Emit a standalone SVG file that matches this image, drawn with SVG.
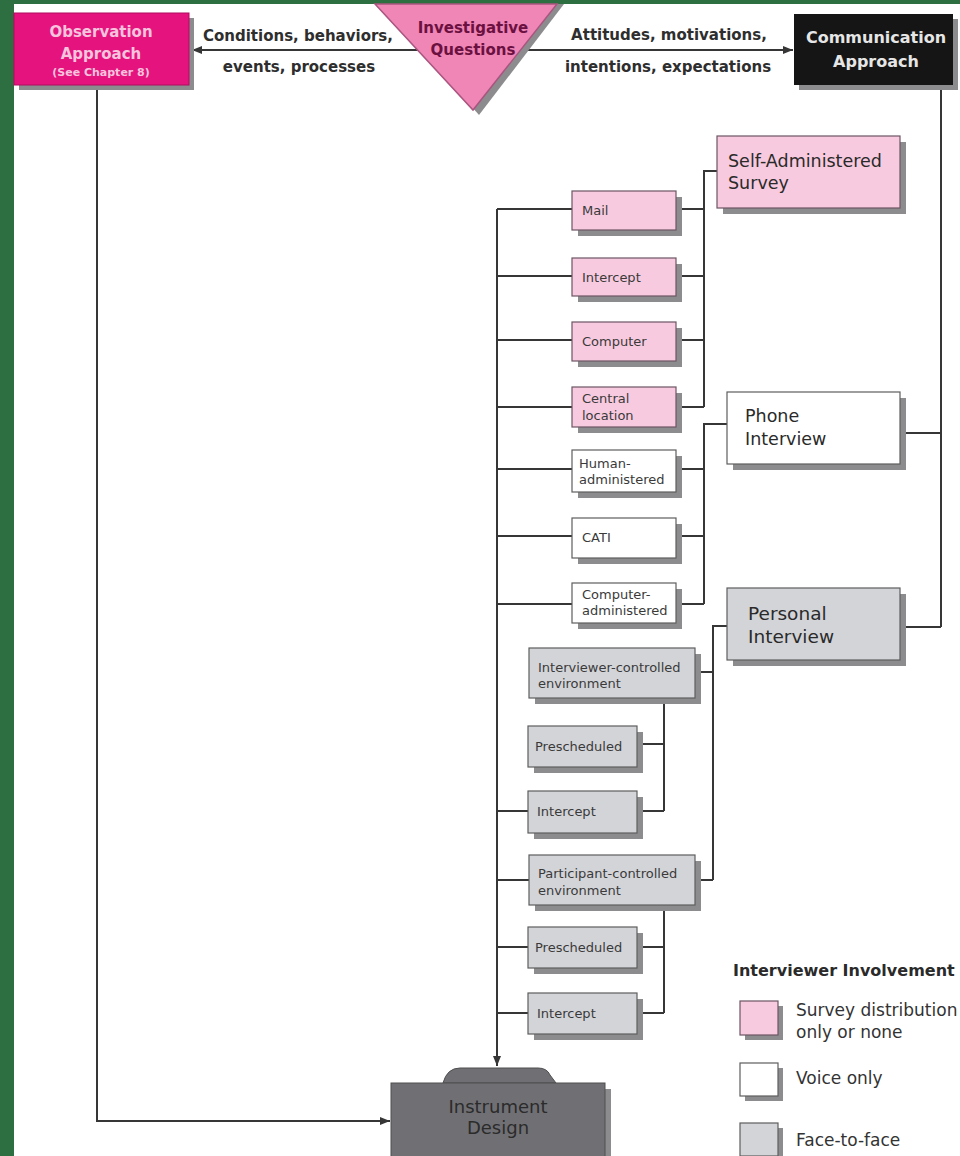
<svg xmlns="http://www.w3.org/2000/svg" width="960" height="1156" viewBox="0 0 960 1156">
<defs>
<style>
.t{font-family:"DejaVu Sans","Liberation Sans",sans-serif;}
.lbl{font-size:15px;font-weight:bold;fill:#2e2e2e;text-anchor:middle;}
.sm{font-size:13px;fill:#3a3a3a;}
.big{font-size:17.5px;fill:#2a2a2a;}
.leg{font-size:17px;fill:#333;}
.sh{fill:#8c8c8e;}
.pk{fill:#f8cadf;stroke:#6d5563;stroke-width:1.2;}
.wt{fill:#ffffff;stroke:#5e5e5e;stroke-width:1.2;}
.gy{fill:#d3d4d8;stroke:#5e5e5e;stroke-width:1.2;}
.ln{fill:none;stroke:#363636;stroke-width:2;}
</style>
<marker id="ah" viewBox="0 0 10 8" refX="10" refY="4" markerWidth="10" markerHeight="8" orient="auto" markerUnits="userSpaceOnUse"><path d="M0,0 L10,4 L0,8 z" fill="#363636"/></marker>
</defs>
<rect x="0" y="0" width="960" height="1156" fill="#ffffff"/>
<rect x="0" y="0" width="960" height="4" fill="#2e6f41"/>
<rect x="0" y="0" width="14" height="1156" fill="#2e6f41"/>

<g id="connectors">
<line class="ln" x1="418" y1="50" x2="192" y2="50" marker-end="url(#ah)"/>
<line class="ln" x1="520" y1="50" x2="793" y2="50" marker-end="url(#ah)"/>
<polyline class="ln" points="97,88 97,1121 390,1121" marker-end="url(#ah)"/>
<line class="ln" x1="497" y1="209" x2="497" y2="1066" marker-end="url(#ah)"/>
<path class="ln" d="M497,209H572M497,276H572M497,340H572M497,407H572M497,469H572M497,536H572M497,604H572M497,811H528M497,880H529M497,947H528M497,1013H528"/>
<path class="ln" d="M717,171H704V407M676,209H704M676,276H704M676,340H704M676,407H704"/>
<path class="ln" d="M727,424H704V604M676,469H704M676,536H704M676,604H704"/>
<path class="ln" d="M727,626H713V880M695,672H713M695,880H713"/>
<path class="ln" d="M664,698V811M637,744H664M637,811H664"/>
<path class="ln" d="M664,905V1013M637,947H664M637,1013H664"/>
<path class="ln" d="M941,86V627M900,433H941M900,627H941"/>
</g>

<g id="observation">
<rect class="sh" x="19" y="18" width="175" height="72"/>
<rect x="14" y="13" width="175" height="72" fill="#e5137e" stroke="#b00d60" stroke-width="1"/>
<text class="t" x="101" y="37" text-anchor="middle" font-size="15" font-weight="bold" fill="#f7c4de">Observation</text>
<text class="t" x="101" y="59" text-anchor="middle" font-size="15" font-weight="bold" fill="#f7c4de">Approach</text>
<text class="t" x="101" y="76" text-anchor="middle" font-size="11" font-weight="bold" fill="#f7c4de">(See Chapter 8)</text>
</g>

<g id="label-left">
<text class="t lbl" x="298" y="41">Conditions, behaviors,</text>
<text class="t lbl" x="299" y="72">events, processes</text>
</g>
<g id="label-right">
<text class="t lbl" x="669" y="40">Attitudes, motivations,</text>
<text class="t lbl" x="668" y="72">intentions, expectations</text>
</g>

<g id="questions">
<polygon class="sh" points="381,4 564,4 479,115"/>
<polygon points="375,4 557,4 473,110" fill="#ef86b6" stroke="#a9557f" stroke-width="1.5"/>
<text class="t" x="473" y="33" text-anchor="middle" font-size="15" font-weight="bold" fill="#6b1040">Investigative</text>
<text class="t" x="473" y="55" text-anchor="middle" font-size="15" font-weight="bold" fill="#6b1040">Questions</text>
</g>

<g id="communication">
<rect class="sh" x="799" y="19" width="159" height="71"/>
<rect x="794" y="14" width="159" height="71" fill="#151515"/>
<text class="t" x="876" y="43" text-anchor="middle" font-size="16" font-weight="bold" fill="#e6e6e6">Communication</text>
<text class="t" x="876" y="67" text-anchor="middle" font-size="16" font-weight="bold" fill="#e6e6e6">Approach</text>
</g>

<g id="self-administered">
<rect class="sh" x="723" y="142" width="183" height="72"/>
<rect class="pk" x="717" y="136" width="183" height="72"/>
<text class="t big" x="728" y="167">Self-Administered</text>
<text class="t big" x="728" y="189">Survey</text>
</g>

<g id="mail"><rect class="sh" x="578" y="197" width="104" height="39"/><rect class="pk" x="572" y="191" width="104" height="39"/><text class="t sm" x="582" y="215">Mail</text></g>
<g id="intercept-sa"><rect class="sh" x="578" y="264" width="104" height="38"/><rect class="pk" x="572" y="258" width="104" height="38"/><text class="t sm" x="582" y="282">Intercept</text></g>
<g id="computer"><rect class="sh" x="578" y="328" width="104" height="39"/><rect class="pk" x="572" y="322" width="104" height="39"/><text class="t sm" x="582" y="346">Computer</text></g>
<g id="central-location"><rect class="sh" x="578" y="393" width="104" height="40"/><rect class="pk" x="572" y="387" width="104" height="40"/><text class="t sm" x="582" y="403">Central</text><text class="t sm" x="582" y="420">location</text></g>

<g id="phone">
<rect class="sh" x="733" y="398" width="173" height="72"/>
<rect class="wt" x="727" y="392" width="173" height="72"/>
<text class="t big" x="745" y="422">Phone</text>
<text class="t big" x="745" y="445">Interview</text>
</g>

<g id="human-administered"><rect class="sh" x="578" y="456" width="104" height="42"/><rect class="wt" x="572" y="450" width="104" height="42"/><text class="t sm" x="579" y="468">Human-</text><text class="t sm" x="579" y="484">administered</text></g>
<g id="cati"><rect class="sh" x="578" y="524" width="104" height="40"/><rect class="wt" x="572" y="518" width="104" height="40"/><text class="t sm" x="582" y="542">CATI</text></g>
<g id="computer-administered"><rect class="sh" x="578" y="589" width="104" height="40"/><rect class="wt" x="572" y="583" width="104" height="40"/><text class="t sm" x="582" y="599">Computer-</text><text class="t sm" x="582" y="615">administered</text></g>

<g id="personal">
<rect class="sh" x="733" y="594" width="173" height="72"/>
<rect class="gy" x="727" y="588" width="173" height="72"/>
<text class="t" x="748" y="620" font-size="18.5" fill="#2a2a2a">Personal</text>
<text class="t" x="748" y="643" font-size="18.5" fill="#2a2a2a">Interview</text>
</g>

<g id="interviewer-controlled"><rect class="sh" x="535" y="654" width="166" height="50"/><rect class="gy" x="529" y="648" width="166" height="50"/><text class="t sm" x="538" y="672">Interviewer-controlled</text><text class="t sm" x="538" y="688">environment</text></g>
<g id="prescheduled-1"><rect class="sh" x="534" y="732" width="109" height="41"/><rect class="gy" x="528" y="726" width="109" height="41"/><text class="t sm" x="535" y="751">Prescheduled</text></g>
<g id="intercept-1"><rect class="sh" x="534" y="797" width="109" height="42"/><rect class="gy" x="528" y="791" width="109" height="42"/><text class="t sm" x="537" y="816">Intercept</text></g>
<g id="participant-controlled"><rect class="sh" x="535" y="861" width="166" height="50"/><rect class="gy" x="529" y="855" width="166" height="50"/><text class="t sm" x="538" y="878">Participant-controlled</text><text class="t sm" x="538" y="895">environment</text></g>
<g id="prescheduled-2"><rect class="sh" x="534" y="933" width="109" height="41"/><rect class="gy" x="528" y="927" width="109" height="41"/><text class="t sm" x="535" y="952">Prescheduled</text></g>
<g id="intercept-2"><rect class="sh" x="534" y="999" width="109" height="41"/><rect class="gy" x="528" y="993" width="109" height="41"/><text class="t sm" x="537" y="1018">Intercept</text></g>

<g id="instrument-design">
<rect class="sh" x="397" y="1089" width="214" height="70"/>
<path d="M443,1083 Q447,1068 460,1068 L538,1068 Q547,1068 550,1075 L556,1083 Z" fill="#707074" stroke="#4e4e50" stroke-width="1"/>
<rect x="391" y="1083" width="214" height="76" fill="#707074" stroke="#4e4e50" stroke-width="1"/>
<text class="t" x="498" y="1113" text-anchor="middle" font-size="18" fill="#2b2b2b">Instrument</text>
<text class="t" x="498" y="1134" text-anchor="middle" font-size="18" fill="#2b2b2b">Design</text>
</g>

<g id="legend">
<text class="t" x="733" y="976" font-size="16" font-weight="bold" fill="#2a2a2a">Interviewer Involvement</text>
<rect class="sh" x="745" y="1006" width="38" height="34"/>
<rect class="pk" x="740" y="1001" width="38" height="34"/>
<text class="t leg" x="796" y="1016">Survey distribution</text>
<text class="t leg" x="796" y="1038">only or none</text>
<rect class="sh" x="745" y="1068" width="38" height="33"/>
<rect class="wt" x="740" y="1063" width="38" height="33"/>
<text class="t leg" x="796" y="1084">Voice only</text>
<rect class="sh" x="745" y="1128" width="38" height="33"/>
<rect class="gy" x="740" y="1123" width="38" height="33"/>
<text class="t leg" x="796" y="1146">Face-to-face</text>
</g>
</svg>
